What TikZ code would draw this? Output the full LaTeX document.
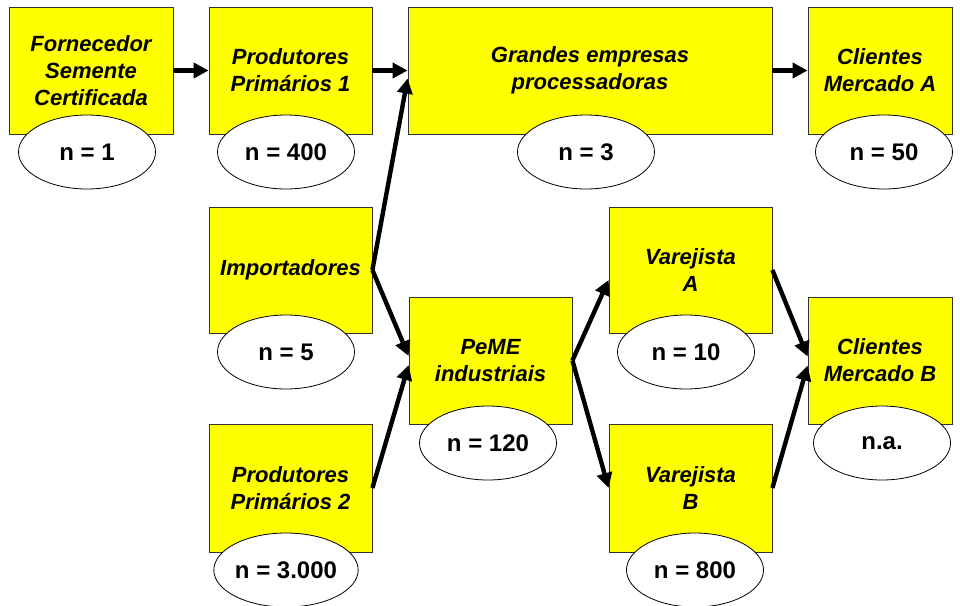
\documentclass[tikz,border=0pt]{standalone}
\usepackage{fontspec}
\setmainfont{Liberation Sans}
\usetikzlibrary{shapes.geometric,arrows.meta}
\definecolor{boxyellow}{RGB}{255,255,0}
\tikzset{
  stagebox/.style={draw=black!80, line width=0.8pt, fill=boxyellow, align=center,
    inner sep=2pt, font=\fontsize{22}{27}\selectfont\bfseries\itshape},
  countell/.style={ellipse, draw=black, line width=0.8pt, fill=white, inner sep=0pt,
    minimum width=137pt, minimum height=74pt, font=\fontsize{24}{28}\selectfont\bfseries},
  flow/.style={line width=4.4pt, -{Triangle[length=15pt,width=15pt]}}
}
\begin{document}
\begin{tikzpicture}[x=1pt,y=-1pt]
\useasboundingbox (0,0) rectangle (960,605);
% boxes
\node[stagebox, minimum width=164pt, minimum height=127pt] (forn) at (91,70.5) {Fornecedor\\Semente\\Certificada};
\node[stagebox, minimum width=163pt, minimum height=127pt] (prod1) at (290.5,70.5) {Produtores\\Primários 1};
\node[stagebox, minimum width=364pt, minimum height=127pt] (grandes) at (590,70.5) {Grandes empresas\\processadoras};
\node[stagebox, minimum width=144pt, minimum height=127pt] (cliA) at (880,70.5) {Clientes\\Mercado A};
\node[stagebox, minimum width=163pt, minimum height=126pt] (imp) at (290.5,270) {Importadores};
\node[stagebox, minimum width=163pt, minimum height=127pt] (peme) at (490.5,360.5) {PeME\\industriais};
\node[stagebox, minimum width=163pt, minimum height=126pt] (varA) at (690.5,270) {Varejista\\A};
\node[stagebox, minimum width=144pt, minimum height=127pt] (cliB) at (880,360.5) {Clientes\\Mercado B};
\node[stagebox, minimum width=163pt, minimum height=128pt] (prod2) at (290.5,488) {Produtores\\Primários 2};
\node[stagebox, minimum width=163pt, minimum height=128pt] (varB) at (690.5,488) {Varejista\\B};
% counts
\node[countell] (nforn) at (87,152) {n = 1};
\node[countell] (nprod1) at (286,152) {n = 400};
\node[countell] (ngrandes) at (586,152) {n = 3};
\node[countell] (ncliA) at (884,152) {n = 50};
\node[countell] (nimp) at (286,352) {n = 5};
\node[countell] (npeme) at (488,443) {n = 120};
\node[countell] (nvarA) at (686,352) {n = 10};
\node[countell] (ncliB) at (882,443) {n.a.};
\node[countell] (nprod2) at (286,570) {n = 3.000};
\node[countell] (nvarB) at (695,570) {n = 800};
% flows
\draw[flow] (forn.east) -- (prod1.west);
\draw[flow] (prod1.east) -- (grandes.west);
\draw[flow] (imp.east) -- ([yshift=-8pt]grandes.west);
\draw[flow] (grandes.east) -- (cliA.west);
\draw[flow] (imp.east) -- ([yshift=4.5pt]peme.west);
\draw[flow] (prod2.east) -- ([yshift=-4.5pt]peme.west);
\draw[flow] (peme.east) -- ([yshift=-10pt]varA.west);
\draw[flow] (peme.east) -- (varB.west);
\draw[flow] (varA.east) -- ([yshift=4pt]cliB.west);
\draw[flow] (varB.east) -- ([yshift=-5pt]cliB.west);
\end{tikzpicture}
\end{document}
